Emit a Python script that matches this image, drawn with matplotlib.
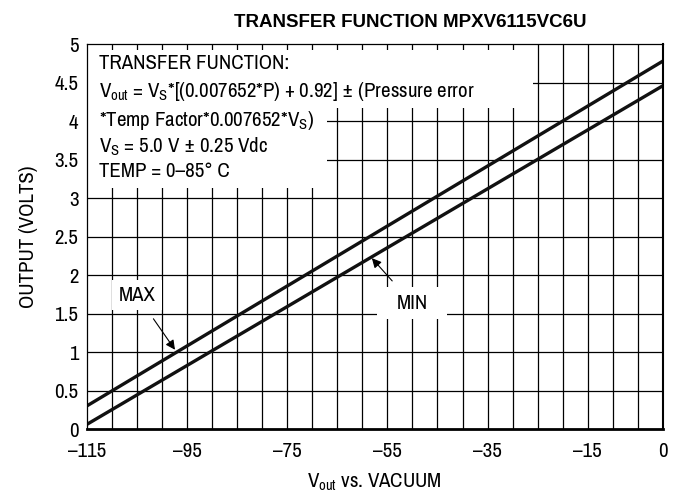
import numpy as np
import matplotlib
matplotlib.use("Agg")
import matplotlib.pyplot as plt
from matplotlib.patches import Rectangle

plt.rcParams['font.family'] = ['Archivo Narrow', 'Liberation Sans', 'DejaVu Sans']
plt.rcParams['mathtext.fontset'] = 'custom'
plt.rcParams['mathtext.rm'] = 'Archivo Narrow'
plt.rcParams['mathtext.it'] = 'Archivo Narrow'

# Data
pressure = [-115, 0]
v_max = [0.30, 4.78]
v_min = [0.06, 4.46]

x_ticks = [-115, -95, -75, -55, -35, -15, 0]
x_labels = ['\u2013115', '\u201395', '\u201375', '\u201355', '\u201335', '\u201315', '0']
y_ticks = [0, 0.5, 1, 1.5, 2, 2.5, 3, 3.5, 4, 4.5, 5]
y_labels = ['0', '0.5', '1', '1.5', '2', '2.5', '3', '3.5', '4', '4.5', '5']

fig = plt.figure(figsize=(6.73, 4.96), dpi=100)
ax = fig.add_axes([0.129, 0.135, 0.856, 0.776])

ax.set_xlim(-115, 0)
ax.set_ylim(0, 5)

# grid: every 5 units across, every 0.5 up
for gx in np.arange(-110, 0, 5):
    ax.axvline(gx, color='black', lw=0.9, zorder=1)
for gy in np.arange(0.5, 5, 0.5):
    ax.axhline(gy, color='black', lw=0.9, zorder=1)

ax.plot(pressure, v_max, color='#111111', lw=2.4, zorder=4, solid_capstyle='butt')
ax.plot(pressure, v_min, color='#111111', lw=2.4, zorder=4, solid_capstyle='butt')

# white panels behind the text so the grid is hidden there
ax.add_patch(Rectangle((-115, 4.17), 89, 0.76, facecolor='white', edgecolor='none', zorder=2))
ax.add_patch(Rectangle((-115, 3.13), 48, 1.05, facecolor='white', edgecolor='none', zorder=2))
ax.add_patch(Rectangle((-110, 1.55), 10, 0.38, facecolor='white', edgecolor='none', zorder=2))
ax.add_patch(Rectangle((-57.1, 1.43), 14.1, 0.41, facecolor='white', edgecolor='none', zorder=2))

fs = 15
tx = -112.6
pm = '\u00b1'
ax.text(tx, 4.75, 'TRANSFER FUNCTION:', fontsize=fs, va='center', zorder=5)
ax.text(tx, 4.38, r'V$_{\mathrm{out}}$ = V$_{\mathrm{S}}$*[(0.007652*P) + 0.92] ' + pm + ' (Pressure error',
        fontsize=fs, va='center', zorder=5)
ax.text(tx, 4.01, r'*Temp Factor*0.007652*V$_{\mathrm{S}}$)', fontsize=fs, va='center', zorder=5)
ax.text(tx, 3.66, r'V$_{\mathrm{S}}$ = 5.0 V ' + pm + ' 0.25 Vdc', fontsize=fs, va='center', zorder=5)
ax.text(tx, 3.34, 'TEMP = 0\u201385\u00b0 C', fontsize=fs, va='center', zorder=5)

ax.annotate('MAX', xy=(-97.4, 1.03), xytext=(-105, 1.74), fontsize=fs,
            ha='center', va='center', zorder=5,
            arrowprops=dict(arrowstyle='-|>', color='black', lw=0.8, shrinkA=10, shrinkB=0,
                            mutation_scale=14))
ax.annotate('MIN', xy=(-58.1, 2.22), xytext=(-50, 1.63), fontsize=fs,
            ha='center', va='center', zorder=5,
            arrowprops=dict(arrowstyle='-|>', color='black', lw=0.8, shrinkA=10, shrinkB=0,
                            mutation_scale=14))

ax.set_xticks(x_ticks)
ax.set_xticklabels(x_labels, fontsize=fs)
ax.set_yticks(y_ticks)
ax.set_yticklabels(y_labels, fontsize=fs)
ax.tick_params(axis='x', length=0, pad=9)
ax.tick_params(axis='y', length=0, pad=6)

ax.spines['left'].set_linewidth(0.9)
ax.spines['top'].set_linewidth(0.9)
ax.spines['right'].set_linewidth(1.5)
ax.spines['bottom'].set_linewidth(2.0)
for s in ax.spines.values():
    s.set_zorder(6)

ax.set_ylabel('OUTPUT (VOLTS)', fontsize=fs, labelpad=12)
ax.set_xlabel(r'V$_{\mathrm{out}}$ vs. VACUUM', fontsize=fs, labelpad=8)

fig.text(0.61, 0.955, 'TRANSFER FUNCTION MPXV6115VC6U', fontsize=13.5, fontweight='bold',
         family=['Liberation Sans', 'DejaVu Sans'], ha='center', va='center')

fig.savefig('out.png', dpi=100)
